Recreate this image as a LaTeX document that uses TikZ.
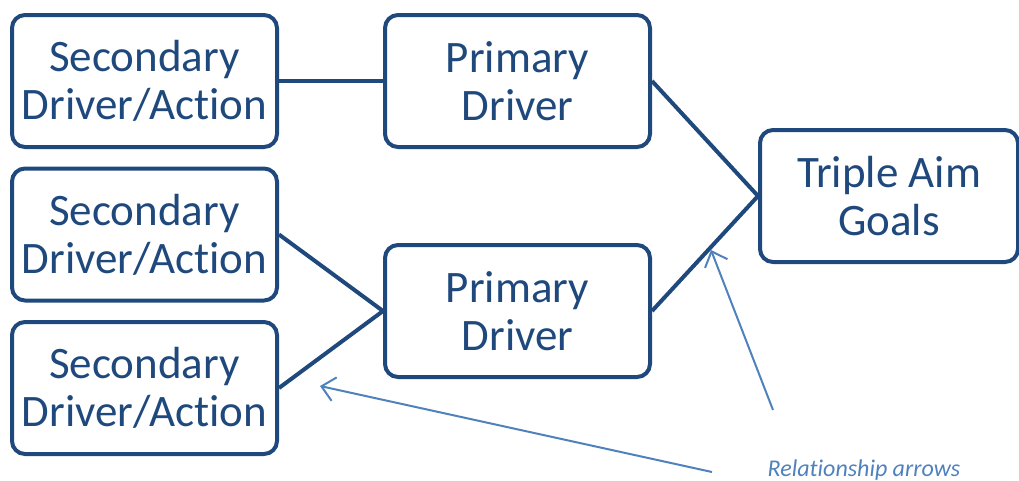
\documentclass[tikz,border=0pt]{standalone}
\usepackage{fontspec}
\setmainfont{Carlito}[Ligatures=NoCommon]
\usetikzlibrary{arrows.meta}
\definecolor{navy}{HTML}{1F497D}
\definecolor{sky}{HTML}{4F81BD}
\tikzset{
  x=1pt, y=-1pt,
  driverbox/.style={draw=navy, line width=4pt, rounded corners=13pt, fill=white,
    minimum width=265pt, minimum height=132pt, inner sep=0pt, align=center,
    text=navy, font=\fontsize{45}{48}\selectfont},
  link/.style={draw=navy, line width=4pt},
  pointer/.style={draw=sky, line width=2pt, -{Straight Barb[length=13pt,width=24pt,line width=2pt]}}
}
\begin{document}
\begin{tikzpicture}
\useasboundingbox (0,0) rectangle (1019,480);
% driver boxes
\node[driverbox] (s1) at (144.5,81) {Secondary\\Driver/Action};
\node[driverbox] (s2) at (144.5,234.5) {Secondary\\Driver/Action};
\node[driverbox] (s3) at (144.5,388) {Secondary\\Driver/Action};
\node[driverbox] (p1) at (517.5,81) {Primary\\Driver};
\node[driverbox] (p2) at (517.5,311) {Primary\\Driver};
\node[driverbox, minimum width=258pt, minimum height=132pt] (goal) at (889,196) {Triple Aim\\Goals};
% relationships
\draw[link] (s1.east) -- (p1.west);
\draw[link] (s2.east) -- (p2.west);
\draw[link] (s3.east) -- (p2.west);
\draw[link] (p1.east) -- (goal.west);
\draw[link] (p2.east) -- (goal.west);
% callout
\node[anchor=base, text=sky, font=\fontsize{24}{26}\selectfont\itshape] (lbl) at (864,476) {Relationship arrows};
\coordinate (t1) at (773,410);
\coordinate (h1) at (711,250);
\coordinate (t2) at (712,472);
\coordinate (h2) at (320,386);
\draw[pointer] (t1) -- (h1);
\draw[pointer] (t2) -- (h2);
\end{tikzpicture}
\end{document}
